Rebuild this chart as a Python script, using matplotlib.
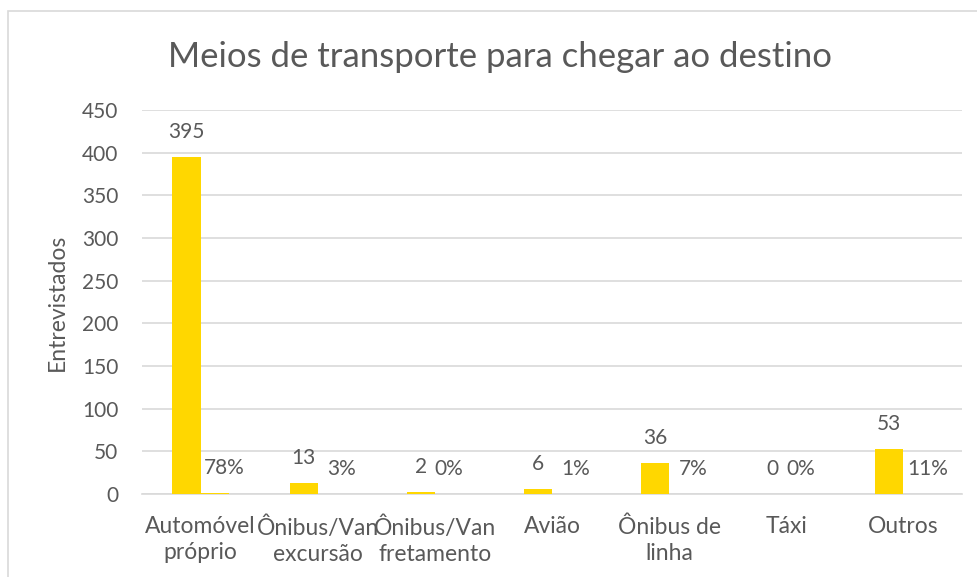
import numpy as np
import matplotlib.pyplot as plt
from matplotlib.patches import Rectangle

plt.rcParams['font.family'] = ['Lato', 'DejaVu Sans']

categories = ['Automóvel\npróprio', 'Ônibus/Van\nexcursão', 'Ônibus/Van\nfretamento',
              'Avião', 'Ônibus de\nlinha', 'Táxi', 'Outros']
counts = [395, 13, 2, 6, 36, 0, 53]
shares = [0.78, 0.03, 0.00, 0.01, 0.07, 0.00, 0.11]
share_labels = ['78%', '3%', '0%', '1%', '7%', '0%', '11%']

bar_color = '#FFD700'
text_color = '#595959'
grid_color = '#D9D9D9'
fs_num = 15
fs_txt = 16.5

W, H = 978, 577
fig = plt.figure(figsize=(W / 100, H / 100), dpi=100)
# axes box in pixels: x 142..962, y 110..494 (top origin)
ax = fig.add_axes([142 / W, 1 - 494 / H, 820 / W, 384 / H])

# chart border (runs off the right and bottom edges)
fig.patches.append(Rectangle((8 / W, -0.1), 1.2, 1 - 11 / H + 0.1,
                             transform=fig.transFigure, fill=False,
                             edgecolor=grid_color, linewidth=1.2))

x = np.arange(len(categories))
bw = 0.24
ax.bar(x - bw / 2, counts, width=bw, color=bar_color, zorder=3)
ax.bar(x + bw / 2, shares, width=bw, color=bar_color, zorder=3)

for i in range(len(categories)):
    ax.annotate(str(counts[i]), (x[i] - bw / 2, counts[i]), xytext=(0, 18),
                textcoords='offset points', ha='center', va='center',
                fontsize=fs_num, color=text_color)
    dx = 7 if shares[i] >= 0.01 else 0
    ax.annotate(share_labels[i], (x[i] + bw / 2, shares[i]), xytext=(dx, 18),
                textcoords='offset points', ha='center', va='center',
                fontsize=fs_num, color=text_color)

ax.set_xlim(-0.5, len(categories) - 0.5)
ax.set_ylim(0, 450)
ax.set_yticks(np.arange(0, 451, 50))
ax.yaxis.grid(True, color=grid_color, linewidth=1.2, zorder=0)
ax.set_xticks(x)
ax.set_xticklabels(categories, fontsize=fs_txt, color=text_color, linespacing=1.3)
ax.tick_params(axis='y', labelsize=fs_num, labelcolor=text_color, length=0, pad=17)
ax.tick_params(axis='x', length=0, pad=16)
for s in ['top', 'right', 'left']:
    ax.spines[s].set_visible(False)
ax.spines['bottom'].set_color(grid_color)
ax.spines['bottom'].set_linewidth(1.2)

ax.set_ylabel('Entrevistados', fontsize=fs_txt, color=text_color, labelpad=10)
fig.text(500 / W, 1 - 57 / H, 'Meios de transporte para chegar ao destino',
         ha='center', va='center', fontsize=25, color=text_color)

fig.savefig('out.png', dpi=100)
